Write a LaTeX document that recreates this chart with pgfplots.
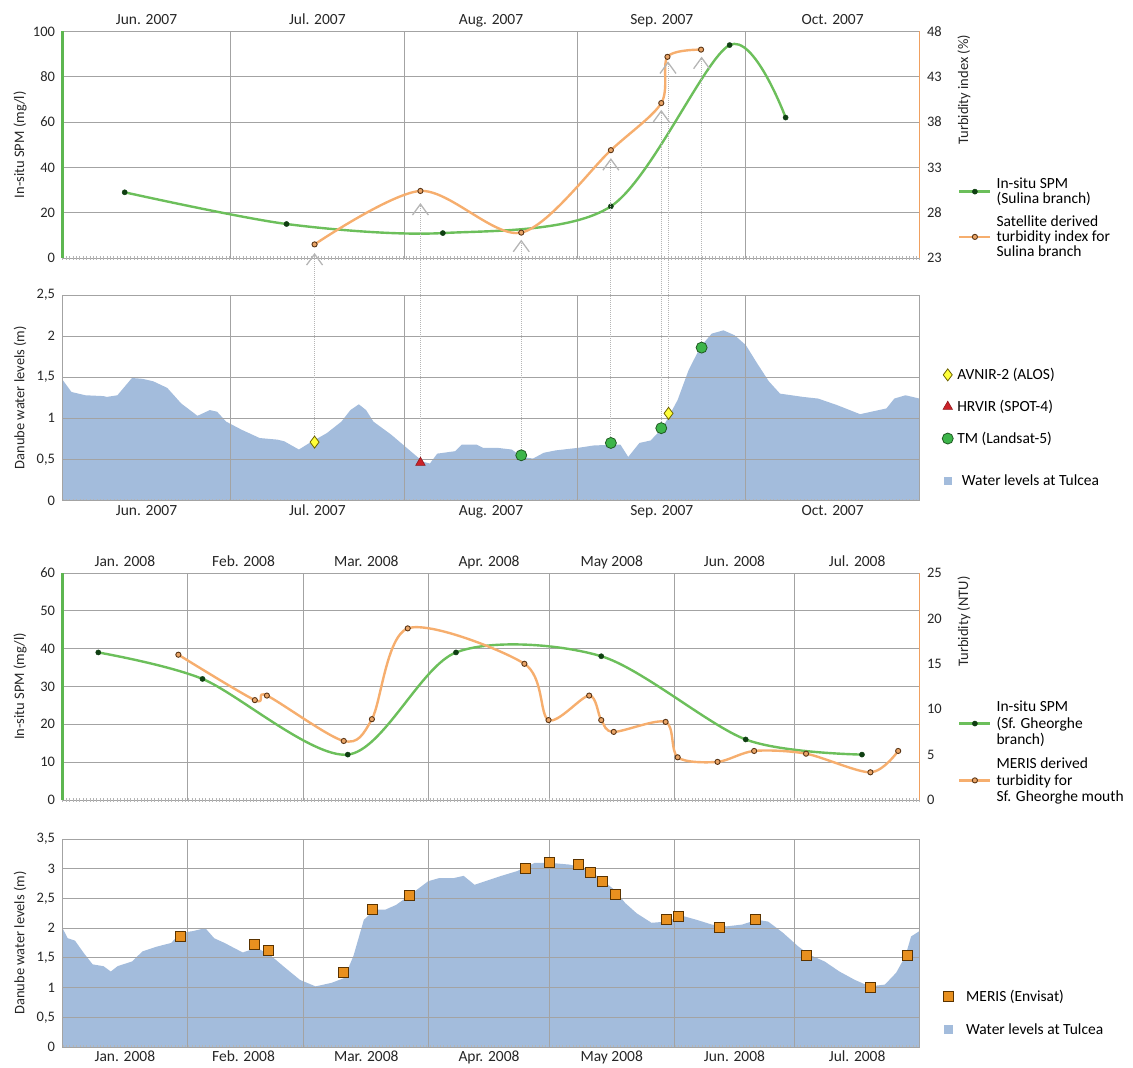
\documentclass[border=0pt]{standalone}
\usepackage{pgfplots}
\pgfplotsset{compat=1.18}
\usetikzlibrary{arrows.meta}
\usepackage{fontspec}
\setmainfont{Carlito}
\newcommand\ff{\fontsize{14.5}{16}\selectfont}
\newcommand\fm{\fontsize{15.5}{16}\selectfont}
\newcommand\fl{\fontsize{15.5}{14.7}\selectfont}
\newcommand\flb{\fontsize{15.5}{16.3}\selectfont}

\definecolor{gridc}{HTML}{A3A3A3}
\definecolor{lgreen}{HTML}{6CBF5B}
\definecolor{dgreen}{HTML}{0F3F12}
\definecolor{axgreen}{HTML}{5DB650}
\definecolor{lorange}{HTML}{F6AE6E}
\definecolor{axorange}{HTML}{F0A060}
\definecolor{obrown}{HTML}{5A3515}
\definecolor{ofill}{HTML}{E9A467}
\definecolor{water}{HTML}{A3BCDC}
\definecolor{ydia}{HTML}{FFFF3A}
\definecolor{ydiad}{HTML}{6E6400}
\definecolor{rtri}{HTML}{CC2229}
\definecolor{tmg}{HTML}{3DB54A}
\definecolor{tmd}{HTML}{1F5A22}
\definecolor{meris}{HTML}{E8901F}
\definecolor{merisd}{HTML}{5A3300}
\definecolor{arrowc}{HTML}{B5B5B5}

\pgfplotsset{
  base/.style={
    scale only axis, width=857pt,
    axis line style={gridc, line width=0.9pt},
    major grid style={gridc, line width=0.9pt},
    minor grid style={gridc, line width=0.9pt},
    ymajorgrids=true, xminorgrids=true, xmajorgrids=false,
    major tick length=0pt, minor tick length=0pt,
    ticklabel style={font=\ff, text=black!85},
    xticklabel style={font=\fm, text height=11pt, text depth=3pt},
    label style={font=\ff, text=black!85},
    /pgf/number format/assume math mode=true,
    /pgf/number format/use comma,
    legend style={draw=none, fill=none, font=\fl, inner sep=0pt,
      cells={anchor=west, align=left, inner sep=2pt}},
    legend cell align=left,
  },
  ax07/.style={base, xmin=0, xmax=153, xtick={15,45.5,76.5,107,137.5},
    xticklabels={Jun. 2007, Jul. 2007, Aug. 2007, Sep. 2007, Oct. 2007},
    minor xtick={30,61,92,122}},
  ax08/.style={base, xmin=0, xmax=213, xtick={15.5,45,75.5,106,136.5,167,197.5},
    xticklabels={Jan. 2008, Feb. 2008, Mar. 2008, Apr. 2008, May 2008, Jun. 2008, Jul. 2008},
    minor xtick={31,60,91,121,152,182}},
  lefty/.style={yticklabel style={xshift=-4pt},
    every axis y label/.style={at={(axis description cs:0,0.5)}, xshift=-42.5pt, rotate=90, anchor=center, font=\ff, text=black!85}},
  righty/.style={yticklabel style={xshift=4pt},
    every axis y label/.style={at={(axis description cs:1,1)}, xshift=44.5pt, rotate=90, anchor=east, font=\ff, text=black!85}},
  greenline/.style={lgreen, line width=2.4pt, smooth, mark=*, mark size=2.6pt,
    mark options={solid, line width=0.4pt, fill=dgreen, draw=dgreen}},
  orangeline/.style={lorange, line width=2.4pt, smooth, mark=*, mark size=2.6pt,
    mark options={solid, line width=0.9pt, fill=ofill, draw=obrown}},
  lineleg/.style={legend image code/.code={\draw[mark repeat=2,mark phase=2,##1] plot coordinates {(0pt,0pt) (15.5pt,0pt) (31pt,0pt)};}},
  markleg/.style={legend image code/.code={\draw[##1] plot coordinates {(6pt,0pt)};}},
  arr/.style={arrowc, line width=1pt, densely dotted, forget plot,
    -{Straight Barb[length=11pt, width=16pt, line width=1.3pt]}},
}
\newcommand\bottompattern{%
  \draw[gridc!80, line width=3.5pt, dash pattern=on 0.8pt off 2.6pt] (rel axis cs:0,0) -- (rel axis cs:1,0);}

\begin{document}
\begin{tikzpicture}
\useasboundingbox (0,0) rectangle (1133pt,1068pt);

% ---------------- Panel 1 ----------------
\begin{axis}[ax07, at={(62.5pt,810pt)}, anchor=south west, height=226.5pt,
  ymin=0, ymax=100, ytick={0,20,40,60,80,100}, xticklabel pos=upper, clip=false,
  ylabel={In-situ SPM (mg/l)}, lefty]
\addplot[greenline] coordinates {(11.1,29) (40.0,15) (67.9,11) (97.9,22.8) (119.1,94) (129.1,62)};
\bottompattern
\draw[axgreen, line width=2.6pt] (rel axis cs:0,0) -- (rel axis cs:0,1);
\end{axis}
\begin{axis}[ax07, at={(62.5pt,810pt)}, anchor=south west, height=226.5pt,
  ymin=23, ymax=48, ytick={23,28,33,38,43,48},
  axis y line*=right, axis x line=none, ymajorgrids=false, xminorgrids=false,
  y axis line style={axorange, line width=1.8pt},
  ylabel={Turbidity index (\%)}, righty, lineleg,
  legend style={at={(axis description cs:1.0449,0.362)}, anchor=north west,
    row sep=7pt, /tikz/every odd column/.append style={column sep=3pt}}]
\addlegendimage{greenline}
\addlegendentry{In-situ SPM\\(Sulina branch)}
\addplot[orangeline] coordinates {(45.0,24.5) (63.9,30.4) (81.9,25.8) (97.9,34.9) (106.9,40.1) (108.0,45.2) (114.0,46.0)};
\addlegendentry{Satellite derived\\turbidity index for\\Sulina branch}
\end{axis}

% ---------------- Panel 2 ----------------
\begin{axis}[ax07, at={(62.5pt,567.5pt)}, anchor=south west, height=205.5pt,
  ymin=0, ymax=2.5, ytick={0,0.5,1,1.5,2,2.5}, axis on top,
  ylabel={Danube water levels (m)}, lefty,
  legend image code/.code={\fill[water] (0pt,-3.75pt) rectangle (7.5pt,3.75pt);},
  legend style={at={(axis description cs:1.0289,0.1364)}, anchor=north west,
    /tikz/every odd column/.append style={column sep=8pt}}]
\addplot[fill=water, draw=none] coordinates {
(0,1.47) (1.6,1.32) (4.1,1.28) (7.3,1.27) (7.9,1.26) (9.8,1.28) (12.4,1.49) (14.3,1.48)
(16.2,1.45) (18.7,1.37) (21.2,1.18) (24.1,1.03) (26.3,1.10) (27.6,1.08) (29.2,0.96)
(32.0,0.86) (35.2,0.76) (38.4,0.74) (39.6,0.72) (42.2,0.62) (44.1,0.70) (47.2,0.82)
(49.8,0.96) (51.4,1.10) (52.9,1.17) (54.2,1.10) (55.5,0.96) (58.7,0.80) (61.8,0.62)
(64.4,0.47) (65.6,0.45) (66.9,0.57) (70.1,0.60) (71.3,0.68) (73.9,0.68) (75.1,0.64)
(77.7,0.64) (80.2,0.62) (82.1,0.53) (84.0,0.51) (85.9,0.58) (88.1,0.61) (92,0.64)
(94.9,0.67) (99.6,0.68) (101,0.53) (103,0.70) (105,0.73) (107.1,0.88) (109.8,1.22)
(111.8,1.59) (113.9,1.87) (115.9,2.03) (118,2.07) (120,2.01) (122,1.89) (124,1.67)
(126.1,1.45) (128.1,1.30) (132.2,1.26) (134.9,1.24) (138.3,1.16) (142.4,1.05)
(144.4,1.08) (147.1,1.12) (148.5,1.24) (150.5,1.28) (153,1.24)} \closedcycle;
\addlegendentry{Water levels at Tulcea}
\bottompattern
\end{axis}
\begin{axis}[ax07, at={(62.5pt,567.5pt)}, anchor=south west, height=205.5pt,
  ymin=0, ymax=2.5, hide axis, clip=false, ymajorgrids=false, xminorgrids=false,
  markleg,
  legend style={at={(axis description cs:1.0263,0.6533)}, anchor=north west,
    row sep=15pt, /tikz/every odd column/.append style={column sep=2pt}}]
\addplot[arr] coordinates {(45.0,0.79) (45.0,3.011)};
\addplot[arr] coordinates {(63.9,0.53) (63.9,3.619)};
\addplot[arr] coordinates {(81.9,0.62) (81.9,3.173)};
\addplot[arr] coordinates {(97.9,0.77) (97.9,4.165)};
\addplot[arr] coordinates {(106.9,0.95) (106.9,4.752)};
\addplot[arr] coordinates {(108.1,1.14) (108.1,5.342)};
\addplot[arr] coordinates {(114.1,1.93) (114.1,5.400)};
\addplot[only marks, mark=diamond*, mark size=6pt, mark options={fill=ydia, draw=ydiad, line width=0.8pt}]
  coordinates {(45.0,0.71) (108.2,1.06)};
\addlegendentry{AVNIR-2 (ALOS)}
\addplot[only marks, mark=triangle*, mark size=5.5pt, mark options={fill=rtri, draw=rtri!70!black, line width=0.6pt}]
  coordinates {(63.9,0.46)};
\addlegendentry{HRVIR (SPOT-4)}
\addplot[only marks, mark=*, mark size=5.5pt, mark options={fill=tmg, draw=tmd, line width=0.8pt}]
  coordinates {(81.9,0.55) (97.9,0.70) (106.9,0.88) (114.1,1.86)};
\addlegendentry{TM (Landsat-5)}
\end{axis}

% ---------------- Panel 3 ----------------
\begin{axis}[ax08, at={(62.5pt,268pt)}, anchor=south west, height=227pt,
  ymin=0, ymax=60, ytick={0,10,20,30,40,50,60}, xticklabel pos=upper, clip=false,
  ylabel={In-situ SPM (mg/l)}, lefty]
\addplot[greenline] coordinates {(8.9,39) (34.8,32) (70.9,12) (97.8,39) (133.9,38) (169.8,16) (198.7,12)};
\bottompattern
\draw[axgreen, line width=2.6pt] (rel axis cs:0,0) -- (rel axis cs:0,1);
\end{axis}
\begin{axis}[ax08, at={(62.5pt,268pt)}, anchor=south west, height=227pt,
  ymin=0, ymax=25, ytick={0,5,10,15,20,25},
  axis y line*=right, axis x line=none, ymajorgrids=false, xminorgrids=false,
  y axis line style={axorange, line width=1.8pt},
  ylabel={Turbidity (NTU)}, righty, lineleg,
  legend style={font=\flb, at={(axis description cs:1.0449,0.445)}, anchor=north west,
    row sep=8pt, /tikz/every odd column/.append style={column sep=3pt}}]
\addlegendimage{greenline}
\addlegendentry{In-situ SPM\\(Sf. Gheorghe\\branch)}
\addplot[orangeline] coordinates {(28.8,16.0) (47.8,11.0) (50.8,11.5) (69.9,6.5) (76.9,8.9)
  (85.8,18.9) (114.8,15.0) (120.8,8.8) (130.9,11.5) (133.9,8.8) (137.0,7.5) (149.9,8.6)
  (152.9,4.7) (162.8,4.2) (171.9,5.4) (184.8,5.1) (200.8,3.05) (207.7,5.4)};
\addlegendentry{MERIS derived\\turbidity for\\Sf. Gheorghe mouth}
\end{axis}

% ---------------- Panel 4 ----------------
\begin{axis}[ax08, at={(62.5pt,21pt)}, anchor=south west, height=208pt,
  ymin=0, ymax=3.5, ytick={0,0.5,1,1.5,2,2.5,3,3.5}, axis on top,
  ylabel={Danube water levels (m)}, lefty]
\addplot[fill=water, draw=none] coordinates {
(0,2.00) (1.3,1.83) (3.1,1.79) (5.3,1.58) (7.5,1.39) (10.2,1.36) (12.0,1.27) (13.7,1.36)
(17.3,1.44) (19.9,1.61) (23.5,1.69) (27.0,1.75) (29.3,1.92) (32.4,1.95) (35.5,2.00)
(37.7,1.83) (40.3,1.75) (44.8,1.59) (48.3,1.67) (51.9,1.53) (55.4,1.33) (59.0,1.13)
(62.9,1.02) (66.9,1.08) (70.0,1.16) (72.3,1.53) (74.9,2.14) (77.6,2.31) (80.2,2.31)
(82.9,2.39) (86.4,2.56) (90.9,2.79) (93.5,2.84) (97.1,2.84) (99.7,2.88) (102.4,2.73)
(108.6,2.87) (113.0,2.96) (117.4,3.10) (121.0,3.10) (125.9,3.07) (128.7,3.03)
(132.4,2.90) (137.1,2.65) (139.9,2.42) (142.7,2.25) (146.4,2.09) (150.2,2.11)
(153.9,2.21) (157.6,2.14) (161.4,2.06) (165.1,2.03) (168.9,2.06) (172.6,2.14)
(175.4,2.11) (179.1,1.92) (182.9,1.69) (185.7,1.55) (189.4,1.44) (193.1,1.27)
(196.9,1.13) (200.6,1.02) (204.4,1.05) (207.2,1.25) (209.5,1.53) (210.9,1.86) (213,1.95)} \closedcycle;
\bottompattern
\end{axis}
\begin{axis}[ax08, at={(62.5pt,21pt)}, anchor=south west, height=208pt,
  ymin=0, ymax=3.5, hide axis, clip=false, ymajorgrids=false, xminorgrids=false,
  markleg,
  legend style={at={(axis description cs:1.0274,0.285)}, anchor=north west,
    row sep=16.5pt, /tikz/every odd column/.append style={column sep=11pt}}]
\addplot[only marks, mark=square*, mark size=5pt, mark options={fill=meris, draw=merisd, line width=0.8pt}]
  coordinates {(29.2,1.86) (47.8,1.72) (51.1,1.63) (69.9,1.26) (77.1,2.31) (86.2,2.55)
  (115.0,3.01) (121.0,3.11) (128.2,3.07) (131.1,2.94) (134.1,2.78) (137.3,2.57)
  (150.2,2.14) (153.1,2.19) (163.2,2.02) (172.1,2.14) (185.0,1.54) (200.8,1.01) (209.9,1.54)};
\addlegendentry{MERIS (Envisat)}
\addlegendimage{legend image code/.code={\fill[water] (2.25pt,-3.75pt) rectangle (9.75pt,3.75pt);}}
\addlegendentry{Water levels at Tulcea}
\end{axis}
\end{tikzpicture}
\end{document}
